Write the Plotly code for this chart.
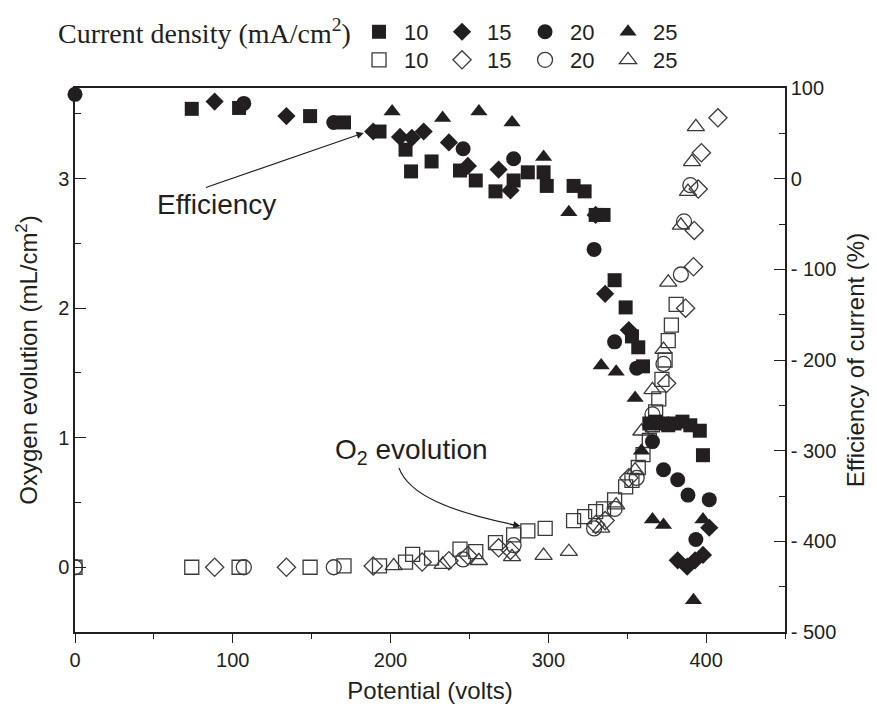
import plotly.graph_objects as go

# ---------------- data ----------------
# Efficiency of current (%), filled markers, right axis
v_eff10 = [74, 104, 149, 170.5, 193, 209.5, 213, 226, 244, 254, 266.5, 278, 287, 297, 299, 316, 323, 330, 335, 342, 349, 353, 357, 360, 364, 368, 372, 376, 380, 385, 390, 396, 398]
eff10 = [77, 78, 69, 62, 52, 32, 8, 19, 9, -2, -14, -2, 7, 7, -8, -8, -14, -40, -40, -112, -142, -174, -186, -207, -270, -268, -270, -272, -270, -268, -272, -278, -305]

v_eff15 = [88.5, 134, 189, 206, 213.5, 221, 237, 249, 268.5, 276, 330, 336, 351, 382, 388, 393, 398, 402]
eff15 = [85, 69, 52, 46, 45, 52, 40, 14, 10, -13, -40, -127, -167, -421, -428, -421, -415, -385]

v_eff20 = [0, 107, 164, 246, 278, 329, 342, 356, 366, 373, 382, 388.5, 393.5, 402]
eff20 = [93, 83, 62, 33, 22, -78, -180, -209, -290, -321, -332, -349, -398, -354]

v_eff25 = [201, 233, 256, 277, 297, 313, 333.5, 343, 355, 359, 366, 373, 392, 398]
eff25 = [74, 67, 74, 62, 24, -37, -206, -213, -242, -300, -376, -382, -465, -376]

# Oxygen evolution (mL/cm2), open markers, left axis
v_o2_10 = [0, 74, 104, 149, 170.5, 193, 209.5, 214, 226, 244, 254, 266.5, 278, 287, 298, 316, 323, 330, 335, 342, 349, 353, 357, 360, 364, 366, 368, 370, 372, 374, 376, 378, 381]
o2_10 = [0, 0, 0, 0, 0.01, 0.01, 0.04, 0.1, 0.07, 0.14, 0.12, 0.19, 0.25, 0.28, 0.3, 0.36, 0.39, 0.43, 0.45, 0.52, 0.62, 0.67, 0.77, 0.87, 0.98, 1.1, 1.2, 1.3, 1.45, 1.6, 1.75, 1.87, 2.03]

v_o2_15 = [88.5, 134, 189, 220, 237, 249, 268.5, 276, 330, 336, 351, 375, 387, 392, 392.5, 395, 397, 407.5]
o2_15 = [0, 0, 0.01, 0.04, 0.05, 0.09, 0.15, 0.13, 0.33, 0.36, 0.69, 1.42, 2.0, 2.32, 2.6, 2.92, 3.2, 3.47]

v_o2_20 = [0, 107, 164, 246, 278, 329, 342, 356, 366, 373, 384, 386, 390]
o2_20 = [0, 0, 0, 0.06, 0.17, 0.3, 0.45, 0.69, 1.18, 1.57, 2.26, 2.67, 2.95]

v_o2_25 = [202, 233, 256, 277, 297, 313, 333.5, 343, 355, 359, 366, 373, 376, 384, 388.5, 391, 393.5]
o2_25 = [0.01, 0.02, 0.05, 0.08, 0.09, 0.12, 0.3, 0.48, 0.75, 1.05, 1.37, 1.68, 2.2, 2.64, 2.9, 3.13, 3.4]

labels = ["10", "15", "20", "25"]

# ---------------- styles ----------------
INK = "#231f20"
OPEN = "#3a3a3a"
filled_sym = ["square", "diamond", "circle", "triangle-up"]
open_sym = ["square-open", "diamond-open", "circle-open", "triangle-up-open"]
sizes = [14, 14, 15, 15]

fig = go.Figure()

eff_sets = [(v_eff10, eff10), (v_eff15, eff15), (v_eff20, eff20), (v_eff25, eff25)]
o2_sets = [(v_o2_10, o2_10), (v_o2_15, o2_15), (v_o2_20, o2_20), (v_o2_25, o2_25)]

for i, (vx, vy) in enumerate(o2_sets):
    fig.add_trace(go.Scatter(
        x=vx, y=vy, mode="markers", name=labels[i], yaxis="y",
        marker=dict(symbol=open_sym[i], size=sizes[i], color=OPEN, line=dict(width=1.3, color=OPEN)),
        legend="legend2"))

for i, (vx, vy) in enumerate(eff_sets):
    fig.add_trace(go.Scatter(
        x=vx, y=vy, mode="markers", name=labels[i], yaxis="y2", cliponaxis=False,
        marker=dict(symbol=filled_sym[i], size=sizes[i], color=INK, line=dict(width=0)),
        legend="legend"))

SANS = "Liberation Sans Narrow, Liberation Sans, Arial"
axfont = dict(family=SANS, size=20, color=INK)
titlefont = dict(family="Liberation Sans, Arial", size=24, color=INK)

# the page body adds an 8px offset, so the figure is sized to fit the window
fig.update_layout(
    width=861, height=697,
    margin=dict(l=67, r=84, t=80, b=73, autoexpand=False),
    paper_bgcolor="white", plot_bgcolor="white",
    font=dict(family="Liberation Sans, Arial", color=INK),
    xaxis=dict(range=[0, 450], tickvals=[0, 100, 200, 300, 400], ticks="outside", ticklen=9,
               tickwidth=1.3, tickcolor=INK, showline=True, linecolor=INK, linewidth=1.5,
               mirror=True, showgrid=False, zeroline=False, tickfont=axfont,
               minor=dict(dtick=50, ticks="outside", ticklen=5, tickcolor=INK),
               title=dict(text="Potential (volts)", font=titlefont, standoff=12)),
    yaxis=dict(range=[-0.5, 3.7], tickvals=[0, 1, 2, 3], ticks="inside", ticklen=11,
               tickwidth=1.3, tickcolor=INK, showline=True, linecolor=INK, linewidth=1.5,
               showgrid=False, zeroline=False, tickfont=axfont,
               minor=dict(tickvals=[-0.5, 0.5, 1.5, 2.5, 3.5], ticks="inside", ticklen=6, tickcolor=INK),
               title=dict(text="Oxygen evolution (mL/cm<sup>2</sup>)", font=titlefont, standoff=14)),
    yaxis2=dict(range=[-500, 100], overlaying="y", side="right",
                tickvals=[100, 0, -100, -200, -300, -400, -500],
                ticktext=["100", "0", "- 100", "- 200", "- 300", "- 400", "- 500"],
                ticks="inside", ticklen=11, tickwidth=1.3, tickcolor=INK, showline=True,
                linecolor=INK, linewidth=1.5, showgrid=False, zeroline=False, tickfont=axfont,
                minor=dict(dtick=50, ticks="inside", ticklen=6, tickcolor=INK),
                title=dict(text="Efficiency of current (%)", font=titlefont, standoff=14)),
    legend=dict(orientation="h", x=0.393, y=1.103, xanchor="left", yanchor="middle",
                font=dict(family="Liberation Sans, Arial", size=22, color=INK),
                itemwidth=40, entrywidth=28, bgcolor="rgba(0,0,0,0)", itemclick=False),
    legend2=dict(orientation="h", x=0.393, y=1.0515, xanchor="left", yanchor="middle",
                 font=dict(family="Liberation Sans, Arial", size=22, color=INK),
                 itemwidth=40, entrywidth=28, bgcolor="rgba(0,0,0,0)", itemclick=False),
)

# legend heading
fig.add_annotation(text="Current density (mA/cm<sup>2</sup>)", xref="paper", yref="paper",
                   x=-0.027, y=1.103, xanchor="left", yanchor="middle", showarrow=False,
                   font=dict(family="Liberation Serif, Times New Roman", size=28, color=INK))

# Efficiency label and arrow
fig.add_annotation(text="Efficiency", x=89.7, y=-29, xref="x", yref="y2", showarrow=False,
                   font=dict(family="Liberation Sans, Arial", size=28, color=INK))
fig.add_annotation(text="", x=183, y=50.5, xref="x", yref="y2", ax=82, ay=-10.3,
                   axref="x", ayref="y2", showarrow=True, arrowhead=2, arrowsize=1.2,
                   arrowwidth=1.2, arrowcolor=INK)

# O2 evolution label and curved arrow
fig.add_annotation(text="O<sub>2</sub> evolution", x=213, y=0.89, xref="x", yref="y", showarrow=False,
                   font=dict(family="Liberation Sans, Arial", size=28, color=INK))
fig.add_shape(type="path", xref="x", yref="y",
              path="M 205.3,0.767 C 211.6,0.56 236.9,0.43 280.5,0.322",
              line=dict(color=INK, width=1.2))
fig.add_annotation(text="", x=282.4, y=0.318, xref="x", yref="y", ax=-12, ay=-2,
                   showarrow=True, arrowhead=2, arrowsize=1.2, arrowwidth=1.2, arrowcolor=INK)

fig.write_html("out.html")
